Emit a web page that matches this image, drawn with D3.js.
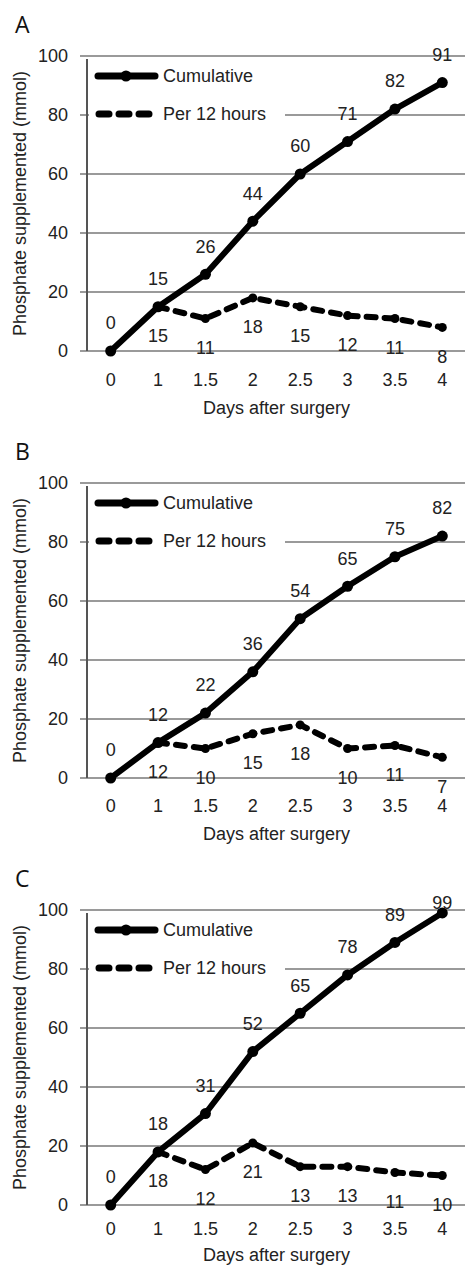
<!DOCTYPE html>
<html>
<head>
<meta charset="utf-8">
<script src="https://cdn.jsdelivr.net/npm/d3@7/dist/d3.min.js"></script>
<style>
  html, body { margin: 0; padding: 0; background: #fff; }
  svg { display: block; }
  text { font-family: "Liberation Sans", Arial, Helvetica, sans-serif; fill: #222; }
</style>
</head>
<body>
<svg id="chart" width="465" height="1267"></svg>
<script>
// ---- data ----
const days = ["0", "1", "1.5", "2", "2.5", "3", "3.5", "4"];
const yTicks = [0, 20, 40, 60, 80, 100];
const panelNames = ["A", "B", "C"];
const cumulativeA = [0, 15, 26, 44, 60, 71, 82, 91];
const per12A = [null, 15, 11, 18, 15, 12, 11, 8];
const cumulativeB = [0, 12, 22, 36, 54, 65, 75, 82];
const per12B = [null, 12, 10, 15, 18, 10, 11, 7];
const cumulativeC = [0, 18, 31, 52, 65, 78, 89, 99];
const per12C = [null, 18, 12, 21, 13, 13, 11, 10];
const seriesNames = ["Cumulative", "Per 12 hours"];
const xTitle = "Days after surgery";
const yTitle = "Phosphate supplemented (mmol)";

const panels = [
  { name: panelNames[0], cum: cumulativeA, per: per12A },
  { name: panelNames[1], cum: cumulativeB, per: per12B },
  { name: panelNames[2], cum: cumulativeC, per: per12C }
];

// ---- layout ----
const svg = d3.select("#chart");
const axisX = 87, rightX = 466, plotH = 295, panelStep = 427, firstTop = 56;
const fontSize = 18;
const tickPads = [22, 21, 17];
const titleOffsets = [63, 62, 56];

panels.forEach((p, i) => {
  const top = firstTop + panelStep * i;
  const bottom = top + plotH;
  const g = svg.append("g");

  const x = d3.scaleBand().domain(days).range([axisX, rightX]);
  const cx = d => x(d) + x.bandwidth() / 2;
  const y = d3.scaleLinear().domain([0, 100]).range([bottom, top]);

  // panel letter
  g.append("text").attr("x", 15).attr("y", top - 23)
    .style("font-family", "'Open Sans', 'DejaVu Sans', sans-serif")
    .style("font-size", "23px").style("fill", "#111")
    .text(p.name);

  // gridlines
  g.selectAll("line.grid").data(yTicks).join("line")
    .attr("x1", axisX - 7).attr("x2", rightX)
    .attr("y1", d => y(d)).attr("y2", d => y(d))
    .attr("stroke", "#9a9a9a").attr("stroke-width", 2);

  // y axis
  const yAxis = d3.axisLeft(y).tickValues(yTicks).tickSize(0).tickPadding(19);
  const ya = g.append("g").attr("transform", `translate(${axisX},0)`).call(yAxis);
  ya.select(".domain").remove();
  ya.selectAll("text").style("font-size", fontSize + "px").style("fill", "#222")
    .style("font-family", "'Liberation Sans', Arial, sans-serif");
  g.append("line").attr("x1", axisX).attr("x2", axisX)
    .attr("y1", top + 3).attr("y2", bottom)
    .attr("stroke", "#555").attr("stroke-width", 2);

  // x axis
  const xAxis = d3.axisBottom(x).tickSize(0).tickPadding(tickPads[i]);
  const xa = g.append("g").attr("transform", `translate(0,${bottom})`).call(xAxis);
  xa.select(".domain").remove();
  xa.selectAll("text").style("font-size", fontSize + "px").style("fill", "#222")
    .style("font-family", "'Liberation Sans', Arial, sans-serif");

  // axis titles
  g.append("text").attr("x", (axisX + rightX) / 2).attr("y", bottom + titleOffsets[i])
    .attr("text-anchor", "middle").style("font-size", fontSize + "px").text(xTitle);
  g.append("text")
    .attr("transform", `translate(26,${(top + bottom) / 2}) rotate(-90)`)
    .attr("text-anchor", "middle").style("font-size", fontSize + "px").text(yTitle);

  // legend
  const lg = g.append("g");
  lg.append("rect").attr("x", axisX + 2).attr("y", top + 4).attr("width", 196).attr("height", 70).attr("fill", "#fff");
  const ly1 = top + 20, ly2 = top + 58;
  lg.append("line").attr("x1", 98).attr("x2", 155).attr("y1", ly1).attr("y2", ly1)
    .attr("stroke", "#000").attr("stroke-width", 7).attr("stroke-linecap", "round");
  lg.append("circle").attr("cx", 126).attr("cy", ly1).attr("r", 5.5).attr("fill", "#000");
  lg.append("line").attr("x1", 99).attr("x2", 152).attr("y1", ly2).attr("y2", ly2)
    .attr("stroke", "#000").attr("stroke-width", 7).attr("stroke-linecap", "round")
    .attr("stroke-dasharray", "10,10");
  lg.append("text").attr("x", 163).attr("y", ly1).attr("dy", "0.35em")
    .style("font-size", fontSize + "px").text(seriesNames[0]);
  lg.append("text").attr("x", 163).attr("y", ly2).attr("dy", "0.35em")
    .style("font-size", fontSize + "px").text(seriesNames[1]);

  // series data
  const cumData = days.map((d, k) => ({ d, v: p.cum[k] }));
  const perData = days.map((d, k) => ({ d, v: p.per[k] })).filter(e => e.v !== null);

  const line = d3.line().x(e => cx(e.d)).y(e => y(e.v));

  g.append("path").datum(perData).attr("d", line)
    .attr("fill", "none").attr("stroke", "#000").attr("stroke-width", 6)
    .attr("stroke-linecap", "round").attr("stroke-linejoin", "round")
    .attr("stroke-dasharray", "9,9");
  g.selectAll("circle.per").data(perData).join("circle")
    .attr("cx", e => cx(e.d)).attr("cy", e => y(e.v)).attr("r", 4.5).attr("fill", "#000");

  g.append("path").datum(cumData).attr("d", line)
    .attr("fill", "none").attr("stroke", "#000").attr("stroke-width", 6)
    .attr("stroke-linejoin", "round");
  g.selectAll("circle.cum").data(cumData).join("circle")
    .attr("cx", e => cx(e.d)).attr("cy", e => y(e.v)).attr("r", 5.5).attr("fill", "#000");

  // data labels
  g.selectAll("text.cumlab").data(cumData).join("text")
    .attr("x", e => cx(e.d)).attr("y", e => Math.max(y(e.v) - 28, top - 7))
    .attr("dy", "0.35em").attr("text-anchor", "middle")
    .style("font-size", fontSize + "px").text(e => e.v);
  g.selectAll("text.perlab").data(perData).join("text")
    .attr("x", e => cx(e.d)).attr("y", e => y(e.v) + 29)
    .attr("dy", "0.35em").attr("text-anchor", "middle")
    .style("font-size", fontSize + "px").text(e => e.v);
});
</script>
</body>
</html>
